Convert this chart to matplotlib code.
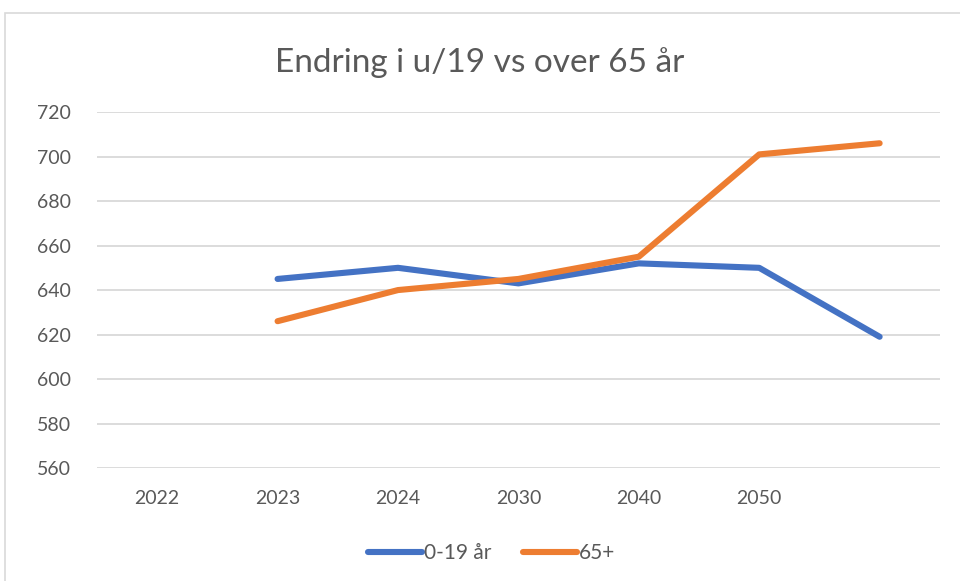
import numpy as np
import matplotlib.pyplot as plt
from matplotlib.patches import Rectangle

# ============================================================
# DATA
# ============================================================
categories = ["2022", "2023", "2024", "2030", "2040", "2050", ""]
young = [np.nan, 645, 650, 643, 652, 650, 619]   # 0-19 år
old = [np.nan, 626, 640, 645, 655, 701, 706]     # 65+
y_ticks = [560, 580, 600, 620, 640, 660, 680, 700, 720]

BLUE = "#4472C4"
ORANGE = "#ED7D31"
TEXT = "#595959"
GRID = "#D9D9D9"

plt.rcParams["font.family"] = ["Lato", "DejaVu Sans"]

fig = plt.figure(figsize=(9.6, 5.81), dpi=100)
ax = fig.add_axes([0.101, 0.1945, 0.878, 0.6125])

x = np.arange(len(categories))
ax.plot(x, young, color=BLUE, lw=4.4, solid_capstyle="round",
        solid_joinstyle="round", label="0-19 år")
ax.plot(x, old, color=ORANGE, lw=4.4, solid_capstyle="round",
        solid_joinstyle="round", label="65+")

ax.set_xlim(-0.5, len(categories) - 0.5)
ax.set_ylim(560, 720)
ax.set_yticks(y_ticks)
ax.set_xticks(x)
ax.set_xticklabels(categories)
ax.tick_params(length=0, labelsize=14, colors=TEXT, pad=16)
ax.tick_params(axis="y", pad=19)
ax.grid(axis="y", color=GRID, lw=1.3)
ax.set_axisbelow(True)
for s in ax.spines.values():
    s.set_visible(False)

fig.text(0.5, 0.893, "Endring i u/19 vs over 65 år", ha="center", va="center",
         fontsize=24, color=TEXT)

fig.legend(loc="center", bbox_to_anchor=(0.512, 0.048), ncol=2, frameon=False,
           fontsize=15, labelcolor=TEXT, handlelength=2.6, handletextpad=0.1,
           columnspacing=1.5)

# light chart-area border
fig.patches.append(Rectangle((5 / 960, -0.01), 2, 1 - 13 / 581 + 0.01,
                             transform=fig.transFigure, fill=False,
                             edgecolor=GRID, lw=1.2))

fig.savefig("out.png", dpi=100)
